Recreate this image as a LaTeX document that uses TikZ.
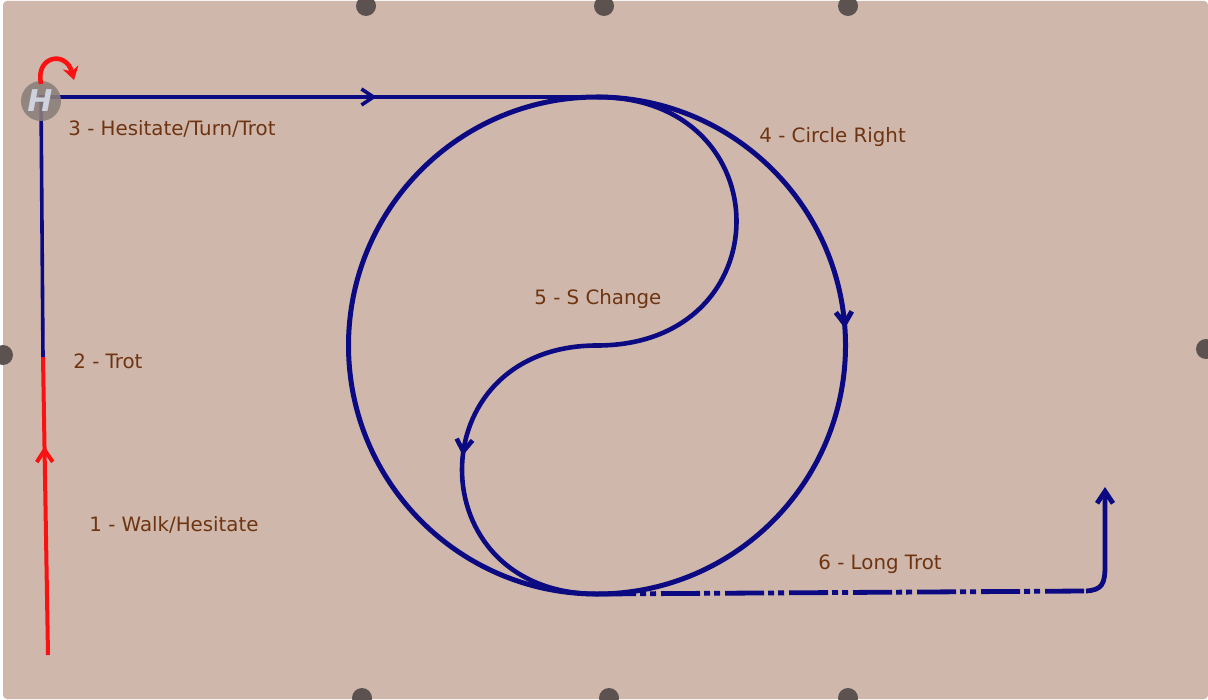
\documentclass[tikz,border=0pt]{standalone}
\usepackage{fontspec}
\setmainfont{DejaVu Sans}
\usetikzlibrary{arrows.meta,decorations.markings}
\definecolor{bgc}{RGB}{207,184,171}
\definecolor{dotc}{RGB}{92,82,80}
\definecolor{navy}{RGB}{12,10,130}
\definecolor{redc}{RGB}{250,18,18}
\definecolor{txtc}{RGB}{110,52,18}
\definecolor{hgray}{RGB}{138,126,122}
\definecolor{hwhite}{RGB}{205,210,222}
\tikzset{
  barb/.style={postaction={decorate,decoration={markings,
      mark=at position #1 with {\arrow{Straight Barb[length=6pt,width=8pt]}}}}},
  walkline/.style={draw=redc,line width=2pt},
  trotline/.style={draw=navy,line width=1.8pt},
  circline/.style={draw=navy,line width=2.5pt},
  sline/.style={draw=navy,line width=2.3pt},
  longline/.style={draw=navy,line width=2.4pt,dash pattern=on 19.5pt off 2pt on 3pt off 2pt on 3pt off 2.5pt},
  cornerline/.style={draw=navy,line width=2.4pt},
  lbl/.style={text=txtc,font=\fontsize{9.9}{11}\selectfont,inner sep=0pt},
  dotmark/.style={fill=dotc},
  hmark/.style={circle,fill=hgray,fill opacity=0.88,minimum size=20pt,inner sep=0pt},
  htext/.style={text=hwhite,font=\fontsize{15}{15}\selectfont\bfseries\itshape,inner sep=0pt},
  turnarrow/.style={draw=redc,line width=2.3pt,-{Stealth[length=6.5pt,width=8pt]}}
}
\begin{document}
\begin{tikzpicture}[x=0.5pt,y=-0.5pt]
\useasboundingbox (0,0) rectangle (1208,700);
\fill[white] (0,0) rectangle (1208,700);
\fill[bgc,rounded corners=2pt] (3,1) rectangle (1208,699);
% edge dots
\fill[dotmark] (366,6) circle[radius=10];
\fill[dotmark] (604,6) circle[radius=10];
\fill[dotmark] (848,6) circle[radius=10];
\fill[dotmark] (362,698) circle[radius=10];
\fill[dotmark] (609,698) circle[radius=10];
\fill[dotmark] (848,698) circle[radius=10];
\fill[dotmark] (3,355) circle[radius=10];
\fill[dotmark] (1206,349) circle[radius=10];
% coordinates
\coordinate (p0) at (48,655);
\coordinate (p1) at (43,357);
\coordinate (p2) at (41,97);
\coordinate (top) at (597,97);
\coordinate (cen) at (597,345.5);
\coordinate (bot) at (597,594);
\coordinate (d1) at (1086,591);
\coordinate (d2) at (1105,487);
% paths
\draw[walkline,barb=0.70] (p0) -- (p1);
\draw[trotline,barb=0.73] (p1) -- (p2) -- (top);
\draw[circline,barb=0.239] (top) arc[start angle=-90,end angle=270,radius=248.5];
\draw[sline,barb=0.735] (top) .. controls (783,97) and (783,345.5) .. (cen)
      .. controls (417,345.5) and (417,594) .. (bot);
\draw[longline] (bot) -- (d1);
\draw[cornerline,-{Straight Barb[length=6pt,width=8pt]}] (d1) .. controls (1102,590) and (1105,584) .. (1105,566) -- (d2);
% H marker
\node[hmark] (H) at (41,101) {};
\node[htext] (Ht) at (40,101) {H};
\coordinate (t0) at (41,84);
\coordinate (t1) at (74,80);
\draw[turnarrow] (t0) .. controls (35,56) and (66,50) .. (t1);
% labels
\node[lbl,anchor=west] (l3) at (68,129) {3 - Hesitate/Turn/Trot};
\node[lbl,anchor=west] (l4) at (759,137) {4 - Circle Right};
\node[lbl,anchor=west] (l5) at (534,299) {5 - S Change};
\node[lbl,anchor=west] (l2) at (73,361) {2 - Trot};
\node[lbl,anchor=west] (l1) at (89,525) {1 - Walk/Hesitate};
\node[lbl,anchor=west] (l6) at (818,564) {6 - Long Trot};
\end{tikzpicture}
\end{document}
